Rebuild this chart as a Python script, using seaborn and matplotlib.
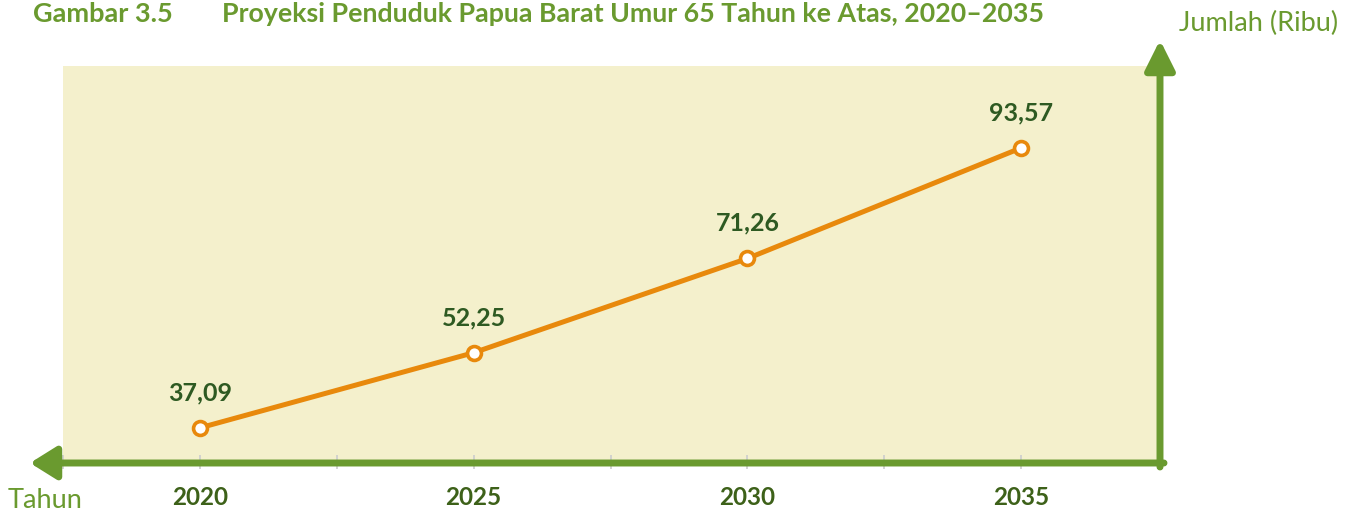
import matplotlib
matplotlib.use("Agg")
import matplotlib.pyplot as plt
import seaborn as sns
import pandas as pd

years = ["2020", "2025", "2030", "2035"]
values = [37.09, 52.25, 71.26, 93.57]
value_labels = ["37,09", "52,25", "71,26", "93,57"]

title_num = "Gambar 3.5"
title_text = "Proyeksi Penduduk Papua Barat Umur 65 Tahun ke Atas, 2020\u20132035"
y_title = "Jumlah (Ribu)"
x_title = "Tahun"

GREEN = "#6a9a2f"
DARK = "#2e5a22"
TICKC = "#3d6119"
ORANGE = "#e8890c"
BG = "#f4f0cc"

sns.set_theme(style="white")
plt.rcParams["font.family"] = ["Lato", "DejaVu Sans"]

W, H = 1354, 516
fig = plt.figure(figsize=(W / 100, H / 100), dpi=100)
ax = fig.add_axes([63 / W, 1 - 462 / H, 1095 / W, 396 / H])
ax.set_facecolor(BG)

df = pd.DataFrame({"idx": range(len(years)), "val": values})
sns.lineplot(data=df, x="idx", y="val", ax=ax, color=ORANGE, linewidth=3.6,
             marker="o", markersize=10, markerfacecolor="white",
             markeredgecolor=ORANGE, markeredgewidth=2.6, zorder=3)

for i, (v, lab) in enumerate(zip(values, value_labels)):
    ax.annotate(lab, (i, v), xytext=(0, 17), textcoords="offset points",
                ha="center", va="bottom", fontsize=18, fontweight="bold", color=DARK)

ax.set_xlim(-0.5, 3.5)
ax.set_ylim(30.2, 110.1)
ticks = [k * 0.5 - 0.5 for k in range(9)]
ax.set_xticks(ticks)
ax.set_xticklabels([years[int(t)] if float(t).is_integer() and 0 <= t <= 3 else "" for t in ticks],
                   fontsize=17.5, fontweight="bold", color=TICKC)
ax.tick_params(axis="x", direction="inout", length=10, width=1.2, color="#cccccc", pad=12, bottom=True)
ax.set_yticks([])
ax.set_xlabel("")
ax.set_ylabel("")
for s in ax.spines.values():
    s.set_visible(False)

# green axis arrows
ax.annotate("", xy=(30, H - 463), xytext=(1164, H - 463), xycoords="figure pixels",
            textcoords="figure pixels",
            arrowprops=dict(arrowstyle="-|>,head_length=16,head_width=10", mutation_scale=1,
                            color=GREEN, lw=5, shrinkA=0, shrinkB=0), annotation_clip=False)
ax.annotate("", xy=(1160, H - 40), xytext=(1160, H - 467), xycoords="figure pixels",
            textcoords="figure pixels",
            arrowprops=dict(arrowstyle="-|>,head_length=18,head_width=9", mutation_scale=1,
                            color=GREEN, lw=5, shrinkA=0, shrinkB=0), annotation_clip=False)

fig.text(33 / W, 1 - 14 / H, title_num, ha="left", va="center", fontsize=19.5,
         fontweight="bold", color=GREEN)
fig.text(222 / W, 1 - 14 / H, title_text, ha="left", va="center", fontsize=19.3,
         fontweight="bold", color=GREEN)
fig.text(1338 / W, 1 - 23 / H, y_title, ha="right", va="center", fontsize=19.5, color=GREEN)
fig.text(8 / W, 1 - 500 / H, x_title, ha="left", va="center", fontsize=19.5, color=GREEN)

fig.savefig("out.png", dpi=100, facecolor="white")
